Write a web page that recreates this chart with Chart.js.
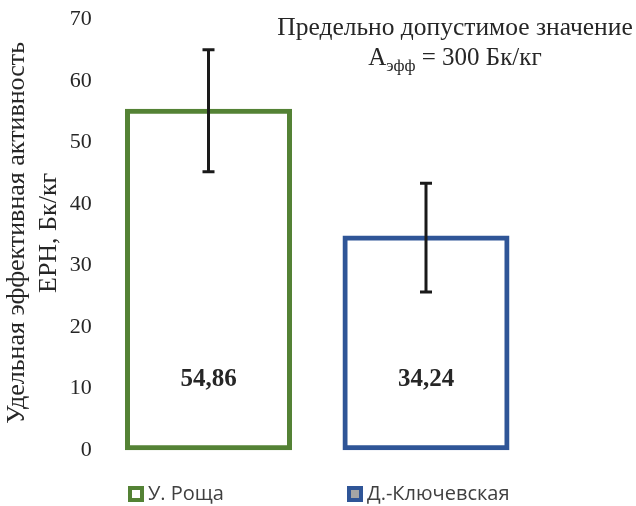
<!DOCTYPE html>
<html><head><meta charset="utf-8">
<script src="https://cdn.jsdelivr.net/npm/chart.js@4.4.1/dist/chart.umd.min.js"></script>
<style>html,body{margin:0;padding:0;background:#fff}#wrap{width:636px;height:506px}</style>
</head><body><div id="wrap"><canvas id="c" width="636" height="506"></canvas></div>
<script>
const categories = ['У. Роща', 'Д.-Ключевская'];
const values = [54.86, 34.24];
const errors = [9.9, 8.85];
const valueLabels = ['54,86', '34,24'];
const yTicks = [0, 10, 20, 30, 40, 50, 60, 70];
const barColors = ['#548235', '#2F5597'];
const legendFill = ['#FFFFFF', '#A5A5A5'];
const yTitle = ['Удельная эффективная активность', 'ЕРН, Бк/кг'];
const note1 = 'Предельно допустимое значение';
const note2 = ['А', 'эфф', ' = 300 Бк/кг'];

const SERIF = '"Liberation Serif", "Times New Roman", serif';
const SANS = '"Open Sans", "Noto Sans", sans-serif';
const TEXT = '#262626';

const extras = {
  id: 'extras',
  afterDatasetsDraw(chart) {
    const ctx = chart.ctx;
    const meta = chart.getDatasetMeta(0);
    const ys = chart.scales.y;
    ctx.save();
    ctx.strokeStyle = '#1a1a1a';
    ctx.lineWidth = 3;
    meta.data.forEach((bar, i) => {
      const x = bar.x;
      const yTop = ys.getPixelForValue(values[i] + errors[i]);
      const yBot = ys.getPixelForValue(values[i] - errors[i]);
      ctx.beginPath();
      ctx.moveTo(x, yTop); ctx.lineTo(x, yBot);
      ctx.moveTo(x - 6, yTop); ctx.lineTo(x + 6, yTop);
      ctx.moveTo(x - 6, yBot); ctx.lineTo(x + 6, yBot);
      ctx.stroke();
    });
    ctx.fillStyle = TEXT;
    ctx.font = 'bold 25px ' + SERIF;
    ctx.textAlign = 'center';
    ctx.textBaseline = 'middle';
    meta.data.forEach((bar, i) => {
      ctx.fillText(valueLabels[i], bar.x, ys.getPixelForValue(0) - 69);
    });
    ctx.restore();
  },
  afterDraw(chart) {
    const ctx = chart.ctx;
    ctx.save();
    ctx.fillStyle = TEXT;
    ctx.textBaseline = 'alphabetic';
    ctx.textAlign = 'center';
    ctx.font = '25.5px ' + SERIF;
    const cx = 455;
    ctx.fillText(note1, cx, 35);
    const big = '25px ' + SERIF, small = '17px ' + SERIF;
    ctx.font = big;
    const wA = ctx.measureText(note2[0]).width;
    const wRest = ctx.measureText(note2[2]).width;
    ctx.font = small;
    const wSub = ctx.measureText(note2[1]).width;
    let x = cx - (wA + wSub + wRest) / 2;
    ctx.textAlign = 'left';
    ctx.font = big; ctx.fillText(note2[0], x, 65); x += wA;
    ctx.font = small; ctx.fillText(note2[1], x, 71); x += wSub;
    ctx.font = big; ctx.fillText(note2[2], x, 65);
    const lx = [130, 349];
    ctx.font = '20px ' + SANS;
    ctx.textBaseline = 'middle';
    categories.forEach((c, i) => {
      ctx.fillStyle = legendFill[i];
      ctx.strokeStyle = barColors[i];
      ctx.lineWidth = 4;
      ctx.beginPath();
      ctx.rect(lx[i], 488, 12, 12);
      ctx.fill();
      ctx.stroke();
      ctx.fillStyle = '#404040';
      ctx.fillText(c, lx[i] + 18, 494);
    });
    ctx.restore();
  }
};

new Chart(document.getElementById('c'), {
  type: 'bar',
  data: {
    labels: categories,
    datasets: [{
      data: values,
      backgroundColor: 'rgba(0,0,0,0)',
      borderColor: barColors,
      borderWidth: 1,
      inflateAmount: 2,
      borderSkipped: false,
      clip: false,
      barPercentage: 0.7494,
      categoryPercentage: 1
    }]
  },
  options: {
    responsive: false,
    animation: false,
    devicePixelRatio: 1,
    layout: { padding: { left: 0, right: 101.25, top: 17.6, bottom: 57.8 } },
    plugins: { legend: { display: false }, tooltip: { enabled: false } },
    scales: {
      x: { display: false },
      y: {
        min: 0, max: 70,
        afterBuildTicks: (s) => { s.ticks = yTicks.map(v => ({ value: v })); },
        afterFit: (s) => { s.width = 99.75; s.paddingTop = 0; s.paddingBottom = 0; },
        grid: { display: false, drawTicks: false },
        border: { display: false },
        ticks: { color: TEXT, padding: 8, labelOffset: 2, font: { family: SERIF, size: 22 } },
        title: {
          display: true, text: yTitle, color: TEXT,
          font: { family: SERIF, size: 26, lineHeight: 1.2 },
          padding: { top: 2, bottom: 0 }
        }
      }
    }
  },
  plugins: [extras]
});
</script></body></html>
